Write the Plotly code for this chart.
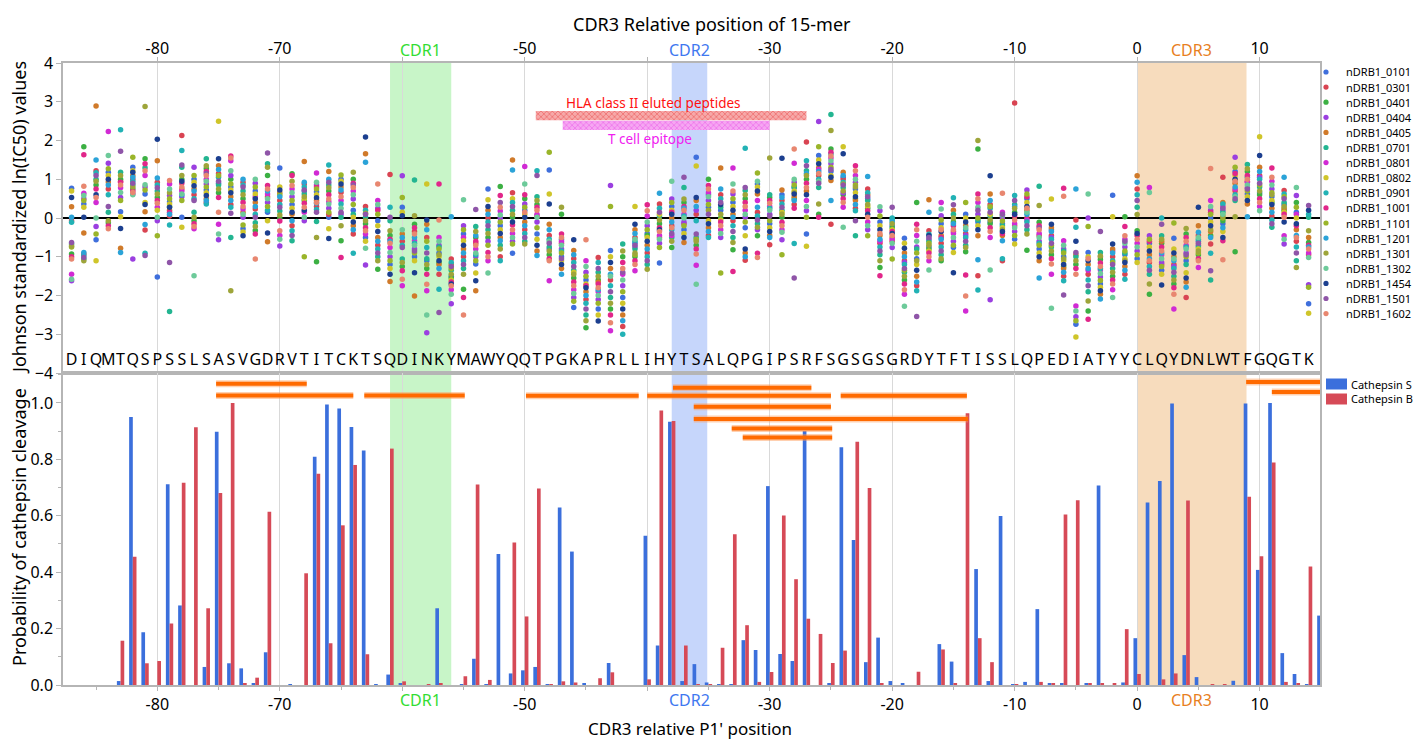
import sys
import plotly.graph_objects as go

# ---------------- data ----------------
positions = list(range(-87, 15))
residues = list("DIQMTQSPSSLSASVGDRVTITCKTSQDINKYMAWYQQTPGKAPRLLIHYTSALQPGIPSRFSGSGSGRDYTFTISSLQPEDIATYYCLQYDNLWTFGQGTK")

allele_names = ["nDRB1_0101", "nDRB1_0301", "nDRB1_0401", "nDRB1_0404", "nDRB1_0405", "nDRB1_0701",
                "nDRB1_0801", "nDRB1_0802", "nDRB1_0901", "nDRB1_1001", "nDRB1_1101", "nDRB1_1201",
                "nDRB1_1301", "nDRB1_1302", "nDRB1_1454", "nDRB1_1501", "nDRB1_1602"]
allele_colors = ["#3f6fdc", "#d94452", "#3cb043", "#9b3fe0", "#d07a2a", "#23b591", "#d12ad4", "#cfc52a",
                 "#22b2b5", "#e1268a", "#9ab52a", "#2ba3d8", "#9ea53a", "#6dca9a", "#1c3f8f", "#8f55a8", "#e88770"]

# Johnson standardized ln(IC50) values read per position (17 alleles each), positions -87 .. 14
scores_by_position = [
    [0.77,0.70,0.53,0.29,0.02,-0.07,-0.11,-0.63,-0.67,-0.72,-0.93,-1.0,-1.06,-1.45,-1.58,-1.62,-0.75],
    [1.84,1.63,0.82,0.64,0.58,0.5,0.45,0.36,0.28,0.02,-0.39,-0.89,-0.93,-0.97,-1.02,-1.06,-1.1],
    [2.89,1.5,1.22,1.17,1.1,1.0,0.95,0.85,0.75,0.53,0.4,0.0,-0.22,-0.41,-0.56,-1.1,0.6],
    [2.23,1.61,1.41,1.27,1.18,1.1,1.0,0.93,0.85,0.75,0.6,0.3,0.15,-0.07,-0.12,-0.2,-0.28],
    [2.28,1.72,1.18,1.1,1.0,0.92,0.85,0.78,0.66,0.53,0.45,0.16,0.03,-0.27,-0.78,-0.89,0.95],
    [1.57,1.31,1.22,1.18,1.1,1.05,1.0,0.95,0.9,0.85,0.8,0.75,0.7,0.66,0.62,0.6,-1.06],
    [2.88,1.53,1.4,1.22,1.1,0.86,0.8,0.72,0.62,0.4,0.35,0.16,-0.17,-0.31,-0.91,-0.97,1.3],
    [2.03,1.48,1.03,0.92,0.85,0.78,0.7,0.62,0.53,0.45,0.38,0.28,0.02,-0.07,-0.46,-1.52,0.2],
    [0.97,0.88,0.75,0.58,0.5,0.42,0.36,0.28,0.2,0.1,0.05,-0.18,-1.15,-2.41,0.65,0.3,0.15],
    [2.13,1.74,1.37,1.31,1.1,1.0,0.9,0.8,0.7,0.62,0.55,0.45,0.02,-0.24,0.95,0.75,0.6],
    [1.31,1.1,1.0,0.92,0.83,0.75,0.7,0.6,0.5,0.45,0.15,0.02,-0.07,-0.15,-0.22,-0.28,-1.49],
    [1.53,1.35,1.28,1.2,1.1,1.0,0.95,0.88,0.8,0.72,0.65,0.58,0.5,0.45,0.4,0.36,1.15],
    [2.5,1.53,1.35,1.25,1.15,1.05,0.95,0.85,0.75,0.65,0.53,0.15,-0.16,-0.41,-0.56,1.1,0.9],
    [1.6,1.55,1.48,1.22,1.1,0.88,0.8,0.72,0.65,0.55,0.45,0.35,0.28,0.12,-0.5,-1.88,1.0],
    [1.0,0.92,0.85,0.8,0.7,0.6,0.5,0.4,0.3,0.23,0.1,0.02,-0.18,-0.28,-0.36,-0.46,0.15],
    [1.0,0.9,0.8,0.7,0.62,0.5,0.4,0.3,0.23,0.1,0.02,-0.12,-0.22,-0.32,-0.41,-1.06,0.55],
    [1.68,1.4,1.31,1.1,0.84,0.75,0.62,0.5,0.4,0.3,0.15,-0.07,-0.39,-0.61,0.7,0.55,0.2],
    [1.29,0.8,0.72,0.65,0.55,0.45,0.35,0.28,0.18,0.08,0.0,-0.08,-0.33,-0.45,-0.55,-0.72,0.6],
    [1.14,1.1,0.84,0.75,0.65,0.55,0.45,0.35,0.25,0.15,0.1,-0.07,-0.2,-0.33,-0.45,-0.59,0.95],
    [1.46,0.92,0.88,0.8,0.72,0.62,0.55,0.45,0.38,0.28,0.15,0.02,-0.07,-1.0,0.7,0.5,0.2],
    [1.16,0.92,0.85,0.75,0.68,0.6,0.52,0.45,0.38,0.3,0.22,0.15,-0.09,-0.5,-1.13,0.8,0.4],
    [1.37,0.92,0.85,0.78,0.7,0.6,0.49,0.42,0.36,0.25,0.15,0.02,-0.28,-0.53,1.2,1.0,0.1],
    [1.11,1.0,0.95,0.88,0.8,0.72,0.66,0.36,0.15,0.02,-0.2,-0.59,-1.02,0.55,0.45,0.25,0.1],
    [1.18,1.0,0.9,0.79,0.7,0.6,0.49,0.35,0.2,0.02,-0.1,-0.2,-0.3,-0.41,-0.91,0.85,0.1],
    [2.09,1.66,1.44,0.3,0.2,0.1,0.02,-0.07,-0.15,-0.25,-0.33,-0.41,-0.78,-1.21,0.12,-0.5,-0.6],
    [0.88,0.45,0.35,0.25,0.1,-0.07,-0.2,-0.35,-0.5,-0.6,-0.7,-0.8,-0.9,-1.0,-1.1,-1.32,0.2],
    [1.12,0.28,0.02,-0.07,-0.33,-0.45,-0.55,-0.65,-0.76,-0.89,-1.0,-1.1,-1.2,-1.3,-1.45,-1.64,-0.6],
    [1.09,0.53,0.28,0.15,0.06,-0.41,-0.5,-0.6,-0.7,-0.76,-1.06,-1.15,-1.25,-1.36,-1.58,-1.75,-0.3],
    [0.98,0.06,-0.16,-0.25,-0.41,-0.59,-0.7,-0.8,-0.9,-1.0,-1.1,-1.41,-2.01,-0.5,-0.35,-0.65,-0.85],
    [0.88,-0.05,-0.16,-0.3,-0.5,-0.76,-0.9,-1.05,-1.2,-1.3,-1.45,-1.71,-1.88,-2.5,-2.96,-0.6,-1.1],
    [0.88,-0.05,-0.5,-0.6,-0.7,-0.8,-0.9,-1.0,-1.1,-1.2,-1.3,-1.45,-1.84,-2.44,-0.75,-0.95,-1.15],
    [0.03,-1.06,-1.15,-1.25,-1.35,-1.45,-1.55,-1.65,-1.75,-1.85,-1.97,-2.21,-1.3,-1.5,-1.6,-1.7,-1.2],
    [0.47,-0.2,-0.3,-0.41,-0.59,-0.7,-0.8,-0.9,-1.0,-1.1,-1.2,-1.3,-1.45,-1.84,-2.05,-2.5,-0.5],
    [0.22,-0.22,-0.35,-0.5,-0.6,-0.7,-0.8,-0.9,-1.0,-1.1,-1.19,-1.42,-1.62,-1.88,-0.45,-0.65,-0.95],
    [0.75,0.47,0.3,0.2,0.1,0.0,-0.1,-0.2,-0.3,-0.4,-0.5,-0.89,-1.0,-1.1,-1.42,-0.6,-0.7],
    [0.81,0.58,0.28,0.18,0.08,0.0,-0.1,-0.2,-0.3,-0.4,-0.5,-0.59,-1.0,-1.1,0.4,-0.7,-0.8],
    [1.5,1.24,0.65,0.4,0.3,0.2,0.1,0.02,-0.18,-0.3,-0.4,-0.5,-0.6,-0.67,-0.91,0.5,-0.1],
    [1.33,0.88,0.36,0.28,0.2,0.1,0.02,-0.1,-0.2,-0.3,-0.4,-0.5,-0.6,-0.67,0.5,0.6,0.15],
    [1.22,1.1,0.55,0.45,0.35,0.28,0.2,0.1,0.02,-0.1,-0.25,-0.41,-0.55,-0.7,-0.85,-0.97,0.05],
    [1.7,1.24,0.62,0.36,-0.16,-0.3,-0.45,-0.55,-0.65,-0.75,-0.85,-0.95,-1.05,-1.1,-1.62,-0.6,-0.8],
    [0.28,0.1,-0.41,-0.5,-0.6,-0.7,-0.8,-0.9,-1.0,-1.1,-1.2,-1.3,-1.45,-0.65,-0.85,-1.05,-0.55],
    [-0.56,-0.84,-0.95,-1.05,-1.15,-1.25,-1.35,-1.45,-1.55,-1.65,-1.75,-1.85,-1.95,-2.05,-2.15,-2.31,-1.4],
    [-0.56,-1.1,-1.25,-1.4,-1.5,-1.6,-1.7,-1.8,-1.9,-2.0,-2.1,-2.2,-2.35,-2.5,-2.65,-2.83,-1.75],
    [-1.02,-1.15,-1.3,-1.4,-1.5,-1.6,-1.7,-1.8,-1.9,-2.0,-2.1,-2.2,-2.35,-2.5,-2.66,-1.65,-1.85],
    [0.84,0.3,-0.84,-1.0,-1.15,-1.3,-1.45,-1.6,-1.75,-1.9,-2.05,-2.2,-2.35,-2.5,-2.7,-2.91,-1.5],
    [-0.67,-0.85,-1.0,-1.15,-1.3,-1.45,-1.6,-1.75,-1.9,-2.05,-2.2,-2.35,-2.5,-2.65,-2.8,-3.0,-1.4],
    [0.3,-0.16,-0.3,-0.4,-0.5,-0.6,-0.7,-0.8,-0.9,-1.0,-1.1,-1.2,-1.36,-0.55,-0.75,-0.95,-0.65],
    [0.34,0.19,0.05,-0.1,-0.2,-0.3,-0.4,-0.5,-0.6,-0.7,-0.8,-0.9,-1.0,-1.1,-1.2,-1.32,-0.45],
    [0.64,0.36,0.25,0.15,0.05,-0.05,-0.15,-0.25,-0.35,-0.45,-0.55,-0.65,-0.76,-1.16,0.1,-0.3,-0.5],
    [0.95,0.49,0.4,0.3,0.2,0.1,0.0,-0.1,-0.2,-0.3,-0.4,-0.5,-0.6,-0.76,0.15,-0.25,-0.45],
    [1.05,0.79,0.49,0.4,0.3,0.2,0.1,0.0,-0.1,-0.2,-0.3,-0.4,-0.5,-0.63,0.25,-0.15,0.05],
    [1.57,1.34,0.53,0.45,0.3,0.1,-0.07,-0.41,-0.5,-0.6,-0.7,-0.8,-0.93,-1.22,-1.71,0.2,-0.55],
    [1.0,0.84,0.75,0.65,0.55,0.45,0.35,0.28,-0.07,-0.15,-0.25,-0.35,-0.45,-0.5,0.1,0.6,0.2],
    [1.29,0.75,0.6,0.5,0.4,0.28,0.1,0.0,-0.1,-0.2,-0.3,-0.4,-0.5,-1.42,0.2,-0.05,0.35],
    [1.29,0.88,0.62,0.5,0.4,0.3,0.2,0.1,0.02,-0.07,-0.2,-0.35,-0.5,-0.63,-0.82,-1.38,0.7],
    [1.8,0.79,0.71,0.6,0.5,0.4,0.3,0.2,0.1,0.02,-0.1,-0.25,-0.46,-0.8,-0.9,-1.0,-1.09],
    [1.16,0.88,0.8,0.7,0.62,0.28,0.15,0.05,-0.05,-0.15,-0.24,-0.46,-0.91,-1.02,0.45,0.95,-0.3],
    [1.55,0.53,0.45,0.38,0.3,0.2,0.1,-0.07,-0.15,-0.25,-0.35,-0.45,-0.5,-0.69,0.25,0.05,0.6],
    [1.54,0.72,0.53,0.45,0.36,0.28,0.2,0.1,0.02,-0.11,-0.2,-0.3,-0.37,-0.56,-0.95,0.6,0.15],
    [1.78,1.41,1.0,0.92,0.85,0.78,0.7,0.62,0.55,0.45,0.35,-0.66,-1.55,0.8,0.65,0.5,0.25],
    [1.96,1.48,1.35,1.22,1.1,1.0,0.9,0.79,0.45,0.3,0.19,0.02,-0.41,-0.73,0.6,0.7,1.15],
    [2.49,1.84,1.61,1.5,1.4,1.3,1.2,1.1,1.0,0.9,0.79,0.36,0.1,0.02,1.15,1.25,0.95],
    [2.67,2.26,1.78,1.7,1.6,1.55,1.48,1.4,1.31,1.2,1.1,1.05,0.97,0.45,-0.16,1.65,1.25],
    [1.84,1.66,1.18,1.1,1.0,0.92,0.85,0.78,0.7,0.6,0.5,0.4,0.28,-0.24,0.65,0.88,1.05],
    [1.35,1.22,1.1,1.0,0.92,0.85,0.75,0.65,0.55,0.45,0.35,0.25,0.19,-0.07,-0.46,0.8,0.5],
    [1.07,0.75,0.65,0.55,0.45,0.35,0.25,0.19,0.02,-0.1,-0.2,-0.3,-0.46,0.5,0.3,0.1,0.6],
    [0.29,0.19,0.05,-0.1,-0.2,-0.3,-0.45,-0.55,-0.65,-0.75,-0.85,-0.95,-1.1,-1.28,-1.49,-0.4,-0.6],
    [0.28,-0.05,-0.15,-0.25,-0.35,-0.45,-0.55,-0.65,-0.76,-1.06,-0.2,-0.3,-0.4,-0.5,-0.1,-0.6,0.0],
    [-0.52,-0.65,-0.78,-0.9,-1.0,-1.1,-1.2,-1.3,-1.4,-1.5,-1.6,-1.7,-1.85,-1.97,-2.28,-1.15,-1.35],
    [0.4,-0.16,-0.3,-0.45,-0.6,-0.75,-0.9,-1.05,-1.2,-1.35,-1.5,-1.65,-1.75,-1.88,-2.54,-0.8,-1.1],
    [0.47,0.15,-0.33,-0.42,-0.5,-0.6,-0.7,-0.8,-0.9,-1.0,-1.1,-1.34,-0.55,-0.65,-0.75,-0.85,-0.45],
    [0.4,0.23,0.06,-0.05,-0.15,-0.25,-0.35,-0.45,-0.55,-0.65,-0.75,-0.85,-0.95,-1.05,-1.1,-0.5,-0.3],
    [0.52,0.34,0.1,0.0,-0.1,-0.2,-0.3,-0.4,-0.5,-0.6,-0.7,-0.76,-0.89,-1.41,0.2,-0.15,-0.35],
    [0.4,0.1,0.0,-0.1,-0.2,-0.3,-0.4,-0.5,-0.6,-0.7,-0.76,-0.87,-1.47,-2.01,-2.4,-0.25,-0.45],
    [2.0,1.78,0.62,0.5,0.4,0.28,0.1,0.0,-0.1,-0.2,-0.3,-0.46,-1.08,-1.49,-1.86,0.2,-0.05],
    [1.09,0.62,0.45,0.35,0.25,0.15,0.05,-0.05,-0.15,-0.25,-0.35,-0.5,-1.34,-2.11,0.3,-0.1,0.1],
    [0.64,0.15,0.08,0.0,-0.08,-0.15,-0.25,-0.35,-0.45,-0.59,-1.1,-1.05,0.1,-0.2,-0.3,0.05,-0.4],
    [2.97,0.58,0.45,0.35,0.25,0.15,0.05,-0.05,-0.15,-0.25,-0.35,-0.45,-0.55,-0.67,0.1,-0.2,0.3],
    [0.72,0.62,0.5,0.4,0.3,0.2,0.1,0.0,-0.1,-0.2,-0.3,-0.41,-0.83,0.55,0.25,-0.05,0.15],
    [0.82,0.32,-0.11,-0.2,-0.3,-0.4,-0.5,-0.6,-0.7,-0.8,-0.9,-1.0,-1.1,-1.55,-0.45,-0.65,-0.25],
    [0.49,-0.16,-0.25,-0.35,-0.45,-0.55,-0.65,-0.75,-0.85,-0.95,-1.05,-1.19,-1.45,-2.33,-0.5,-0.7,-0.3],
    [0.77,0.56,-0.59,-0.7,-0.8,-0.9,-1.0,-1.1,-1.2,-1.3,-1.4,-1.5,-1.62,-1.99,-0.85,-1.05,-1.25],
    [0.75,-0.05,-0.24,-0.89,-1.0,-1.1,-1.2,-1.3,-1.45,-2.27,-2.4,-2.55,-2.65,-2.74,-3.07,-0.6,-0.95],
    [0.62,0.0,-0.22,-0.89,-1.0,-1.1,-1.2,-1.3,-1.45,-1.6,-1.75,-1.9,-2.14,-2.4,-2.61,-1.05,-1.35],
    [-0.35,-0.89,-0.98,-1.07,-1.16,-1.25,-1.34,-1.43,-1.52,-1.61,-1.7,-1.79,-1.88,-1.97,-2.09,-1.0,-1.3],
    [0.59,0.03,-0.67,-0.8,-0.9,-1.0,-1.1,-1.2,-1.3,-1.4,-1.5,-1.6,-1.7,-1.85,-2.05,-0.85,-1.15],
    [0.03,-0.22,-0.46,-0.55,-0.65,-0.75,-0.85,-0.95,-1.05,-1.15,-1.25,-1.35,-1.45,-1.58,-0.6,-0.9,-1.1],
    [1.09,0.92,0.75,0.6,0.45,0.28,0.09,-0.33,-0.45,-0.55,-0.65,-0.75,-0.85,-0.95,-1.05,-1.15,-0.4],
    [0.79,0.66,-0.46,-0.55,-0.65,-0.75,-0.85,-0.95,-1.05,-1.15,-1.25,-1.35,-1.45,-1.7,-1.97,-0.6,-1.1],
    [0.0,-0.16,-0.46,-0.55,-0.65,-0.75,-0.85,-0.95,-1.05,-1.15,-1.25,-1.35,-1.45,-1.73,-0.6,-0.9,-1.2],
    [-0.13,-0.52,-0.8,-0.9,-1.0,-1.1,-1.2,-1.3,-1.4,-1.5,-1.6,-1.7,-1.8,-1.97,-2.35,-1.05,-1.25],
    [-0.27,-0.41,-0.5,-0.6,-0.7,-0.8,-0.9,-1.0,-1.1,-1.41,-1.55,-1.65,-1.79,-2.05,-0.75,-0.95,-1.2],
    [0.28,-0.2,-0.37,-0.45,-0.55,-0.65,-0.75,-0.85,-0.95,-1.05,-1.1,-1.28,-0.5,-0.7,-0.9,-0.6,-0.8],
    [1.28,0.45,0.3,0.2,0.1,0.0,-0.1,-0.2,-0.35,-0.5,-0.67,-0.91,-1.36,-1.6,-0.3,-0.45,0.15],
    [1.05,0.36,0.25,0.15,0.05,-0.07,-0.59,-1.08,0.3,0.1,0.2,0.0,-0.15,-0.35,-0.5,0.4,-0.25],
    [1.57,1.31,1.2,1.1,1.0,0.9,0.8,0.7,0.6,0.5,0.45,0.03,-0.87,1.15,0.95,0.75,0.55],
    [1.38,1.27,1.2,1.1,1.0,0.92,0.85,0.78,0.7,0.62,0.55,0.45,0.36,0.03,0.95,1.05,0.75],
    [2.1,1.61,1.31,1.2,1.1,1.0,0.9,0.8,0.7,0.6,0.5,0.4,0.3,0.19,1.05,0.85,0.65],
    [1.29,1.05,0.95,0.85,0.75,0.65,0.55,0.45,0.35,0.25,0.15,0.05,-0.05,-0.15,-0.24,0.6,0.4],
    [1.05,0.71,0.62,0.5,0.4,0.3,0.2,0.1,0.02,-0.46,-0.55,-0.67,0.55,0.35,0.15,-0.1,0.25],
    [0.79,0.58,0.28,0.15,0.0,-0.15,-0.3,-0.45,-0.6,-0.75,-0.9,-1.1,-1.28,0.4,-0.2,-0.5,0.1],
    [0.32,0.02,-0.33,-0.63,-0.7,-0.8,-0.9,-1.02,-1.72,-1.79,-2.21,-2.46,0.2,-0.5,-0.75,-0.95,0.1],
]

# cathepsin cleavage probabilities, positions -87 .. 15
bar_positions = list(range(-87, 16))
cathepsin_s = [0, 0, 0, 0, 0.014, 0.950, 0.187, 0, 0.712, 0.282, 0, 0.064, 0.898, 0.077, 0.059, 0.007, 0.116,
               0, 0.002, 0, 0.809, 0.994, 0.980, 0.915, 0.831, 0.003, 0.037, 0.006, 0, 0, 0.272, 0, 0.002,
               0.093, 0.002, 0.464, 0.041, 0.052, 0.064, 0.002, 0.629, 0.473, 0.007, 0, 0.078, 0, 0, 0.529,
               0.140, 0.933, 0.014, 0.074, 0.009, 0.002, 0.003, 0.159, 0.124, 0.705, 0.110, 0.085, 0.900, 0,
               0.004, 0.843, 0.514, 0.081, 0.168, 0.014, 0.004, 0, 0, 0.145, 0.083, 0, 0.411, 0.014, 0.599,
               0.003, 0.011, 0.269, 0.004, 0.004, 0, 0.004, 0.707, 0, 0.009, 0.166, 0.647, 0.723, 0.998,
               0.106, 0.028, 0, 0, 0.015, 0.998, 0.408, 1.0, 0.113, 0.039, 0.002, 0.246]
cathepsin_b = [0, 0, 0, 0, 0.157, 0.455, 0.077, 0.085, 0.218, 0.717, 0.914, 0.272, 0.681, 1.0, 0.004, 0.026,
               0.614, 0, 0, 0.396, 0.749, 0.148, 0.566, 0.780, 0.109, 0, 0.838, 0.013, 0, 0.002, 0.006, 0,
               0.031, 0.711, 0.018, 0, 0.505, 0.243, 0.697, 0.002, 0.013, 0.009, 0, 0.024, 0.045, 0, 0,
               0.020, 0.973, 0.936, 0.140, 0.003, 0.003, 0.132, 0.534, 0.212, 0.011, 0.046, 0.601, 0.375,
               0.235, 0.181, 0.078, 0.122, 0.862, 0.698, 0.006, 0, 0, 0.047, 0, 0.126, 0.004, 0.963, 0.166,
               0.081, 0, 0.003, 0, 0.011, 0.005, 0.604, 0.655, 0.004, 0.004, 0.006, 0.198, 0.039, 0, 0.020,
               0.041, 0.654, 0, 0.003, 0.003, 0, 0.667, 0.456, 0.789, 0.011, 0.006, 0.420, 0]

# epitope / peptide segments drawn in the cathepsin panel
epitope_start = [-75.2, -75.2, -63.1, -49.9, -40.0, -37.9, -36.2, -36.2, -33.1, -32.2, -24.2, 8.9, 11.0]
epitope_end = [-67.8, -64.0, -54.9, -40.7, -25.0, -26.6, -25.0, -13.8, -24.9, -24.9, -13.9, 15.5, 15.5]
epitope_level = [1.068, 1.026, 1.026, 1.025, 1.025, 1.054, 0.986, 0.943, 0.909, 0.877, 1.025, 1.074, 1.039]

# HLA class II eluted peptides / T cell epitope spans (top panel)
span_labels = ["HLA class II eluted peptides", "T cell epitope"]
span_start = [-49.1, -46.9]
span_end = [-27.0, -30.0]
span_level = [2.64, 2.39]

# CDR regions
cdr_names = ["CDR1", "CDR2", "CDR3"]
cdr_start = [-61.0, -38.0, 0.0]
cdr_end = [-56.0, -35.1, 8.93]

major_ticks = [-80, -70, -60, -50, -40, -30, -20, -10, 0, 10]
major_labels = ["-80", "-70", "", "-50", "", "-30", "-20", "-10", "0", "10"]

# ---------------- figure ----------------
W, H = 1416, 742
L, R, T, B = 63, 96, 63, 57
PW, PH = W - L - R, H - T - B
SPLIT = 373  # pixel row of the panel boundary


def px_x(px):
    return (px - L) / PW


def px_y(py):
    return (H - B - py) / PH


split_y = px_y(SPLIT)
FONT = "Segoe UI, Noto Sans, sans-serif"
GRID = "#d9d9d9"
AXL = "#b5b5b5"

cdr_fill = ["#c8f5c8", "#c6d6fb", "#f7dcbd"]
cdr_text = ["#33dd33", "#3f78f0", "#e8801e"]

fig = go.Figure()

# allele scatter points
n_pos = len(positions)
for j, name in enumerate(allele_names):
    ys = []
    for i, row in enumerate(scores_by_position):
        k = (j * 5 + i * 7) % 17
        ys.append(row[k] if k < len(row) else None)
    fig.add_trace(go.Scatter(x=positions, y=ys, mode="markers", name=name,
                             marker=dict(color=allele_colors[j], size=5.5),
                             xaxis="x", yaxis="y", showlegend=False))

for i, row in enumerate(scores_by_position):
    if len(row) != 17:
        print("row", positions[i], "has", len(row), "values", file=sys.stderr)

# residue letters
fig.add_trace(go.Scatter(x=positions, y=[-3.7] * n_pos, mode="text", text=residues,
                         textfont=dict(size=16, color="black", family=FONT),
                         xaxis="x", yaxis="y", showlegend=False, hoverinfo="skip"))

# hatched spans
span_fg = ["#e83333", "#e43ee4"]
span_bg = ["#f6a9a9", "#f6a6f2"]
for k in range(len(span_labels)):
    fig.add_trace(go.Bar(y=[span_level[k]], x=[span_end[k] - span_start[k]], base=[span_start[k]],
                         orientation="h", width=0.24, offset=-0.12,
                         marker=dict(color=span_bg[k], line=dict(width=0),
                                     pattern=dict(shape="x", fgcolor=span_fg[k], bgcolor=span_bg[k],
                                                  size=4, solidity=0.35)),
                         xaxis="x", yaxis="y", showlegend=False, name=span_labels[k]))

# cathepsin bars
fig.add_trace(go.Bar(x=bar_positions, y=cathepsin_s, name="Cathepsin S", marker=dict(color="#3b6fdc", line=dict(width=0)),
                     xaxis="x2", yaxis="y2", showlegend=False))
fig.add_trace(go.Bar(x=bar_positions, y=cathepsin_b, name="Cathepsin B", marker=dict(color="#d64a57", line=dict(width=0)),
                     xaxis="x2", yaxis="y2", showlegend=False))

# epitope segments
ex, ey = [], []
for s, e, lv in zip(epitope_start, epitope_end, epitope_level):
    ex += [s, e, None]
    ey += [lv, lv, None]
fig.add_trace(go.Scatter(x=ex, y=ey, mode="lines", line=dict(color="rgba(255,150,80,0.45)", width=7),
                         xaxis="x2", yaxis="y2", showlegend=False, hoverinfo="skip"))
fig.add_trace(go.Scatter(x=ex, y=ey, mode="lines", line=dict(color="#ff6a00", width=4),
                         xaxis="x2", yaxis="y2", showlegend=False, hoverinfo="skip"))

shapes = []
annotations = []
for k in range(3):
    for xr, yr in (("x", "y domain"), ("x2", "y2 domain")):
        shapes.append(dict(type="rect", xref=xr, yref=yr, x0=cdr_start[k], x1=cdr_end[k], y0=0, y1=1,
                           fillcolor=cdr_fill[k], line=dict(width=0), layer="below"))
    mid = (cdr_start[k] + cdr_end[k]) / 2
    annotations.append(dict(x=mid, y=px_y(50), xref="x", yref="paper", text=cdr_names[k], showarrow=False,
                            font=dict(size=16, color=cdr_text[k]), xanchor="center", yanchor="middle"))
    annotations.append(dict(x=mid, y=px_y(700), xref="x", yref="paper", text=cdr_names[k], showarrow=False,
                            font=dict(size=16, color=cdr_text[k]), xanchor="center", yanchor="middle"))

# span labels
annotations.append(dict(x=-39.5, y=2.97, xref="x", yref="y", text=span_labels[0], showarrow=False,
                        font=dict(size=13.5, color="#ff1010"), xanchor="center", yanchor="middle"))
annotations.append(dict(x=-39.8, y=2.04, xref="x", yref="y", text=span_labels[1], showarrow=False,
                        font=dict(size=13.5, color="#f020f0"), xanchor="center", yanchor="middle"))

# titles
annotations.append(dict(x=px_x(712), y=px_y(24), xref="paper", yref="paper", text="CDR3 Relative position of 15-mer",
                        showarrow=False, font=dict(size=18), xanchor="center", yanchor="middle"))
annotations.append(dict(x=px_x(690), y=px_y(728), xref="paper", yref="paper", text="CDR3 relative P1' position",
                        showarrow=False, font=dict(size=17), xanchor="center", yanchor="middle"))
annotations.append(dict(x=px_x(19), y=px_y(218), xref="paper", yref="paper", text="Johnson standardized ln(IC50) values",
                        showarrow=False, font=dict(size=18), textangle=-90, xanchor="center", yanchor="middle"))
annotations.append(dict(x=px_x(19), y=px_y(527), xref="paper", yref="paper", text="Probability of cathepsin cleavage",
                        showarrow=False, font=dict(size=18), textangle=-90, xanchor="center", yanchor="middle"))

# legend for alleles (compact rows)
for i, (name, col) in enumerate(zip(allele_names, allele_colors)):
    py = 72 + 15.1 * i
    shapes.append(dict(type="circle", xref="paper", yref="paper", xsizemode="pixel", ysizemode="pixel",
                       xanchor=px_x(1326), yanchor=px_y(py), x0=-2.6, x1=2.6, y0=-2.6, y1=2.6,
                       fillcolor=col, line=dict(width=0)))
    annotations.append(dict(x=px_x(1344), y=px_y(py), xref="paper", yref="paper", text=name, showarrow=False,
                            font=dict(size=11), xanchor="left", yanchor="middle"))
# legend for cathepsins
for i, (name, col) in enumerate(zip(["Cathepsin S", "Cathepsin B"], ["#3b6fdc", "#d64a57"])):
    py = 384 + 15 * i
    shapes.append(dict(type="rect", xref="paper", yref="paper", xsizemode="pixel", ysizemode="pixel",
                       xanchor=px_x(1326), yanchor=px_y(py), x0=0, x1=21, y0=-5.5, y1=5.5,
                       fillcolor=col, line=dict(width=0)))
    annotations.append(dict(x=px_x(1349), y=px_y(py), xref="paper", yref="paper", text=name, showarrow=False,
                            font=dict(size=11), xanchor="left", yanchor="middle"))

xrange = [-87.7, 14.93]
common_x = dict(range=xrange, tickmode="array", tickvals=major_ticks, ticktext=major_labels,
                showgrid=True, gridcolor=GRID, gridwidth=1, showline=True, linecolor=AXL, linewidth=1.5,
                mirror=True, ticks="outside", ticklen=4, tickcolor=AXL, zeroline=False,
                tickfont=dict(size=16))

fig.update_layout(
    width=W, height=H, margin=dict(l=L, r=R, t=T, b=B),
    paper_bgcolor="white", plot_bgcolor="white",
    font=dict(family=FONT, size=16, color="black"),
    barmode="group", bargap=0.4, showlegend=False,
    xaxis=dict(domain=[0, 1], anchor="y", side="top", ticklabelstandoff=-3, **common_x),
    xaxis2=dict(domain=[0, 1], anchor="y2", side="bottom", matches="x",
                minor=dict(tick0=0, dtick=5, ticks="outside", ticklen=3, tickcolor=AXL, showgrid=False),
                **common_x),
    yaxis=dict(domain=[split_y, 1], anchor="x", range=[-4, 4], dtick=1, tick0=0, showgrid=False,
               zeroline=True, zerolinecolor="black", zerolinewidth=2, showline=True, linecolor=AXL,
               linewidth=1.5, mirror=True, ticks="outside", ticklen=5, tickcolor=AXL, tickfont=dict(size=16)),
    yaxis2=dict(domain=[0, split_y], anchor="x2", range=[0, 1.106], dtick=0.2, tick0=0, tickformat=".1f",
                showgrid=False, zeroline=False, showline=True, linecolor=AXL, linewidth=1.5, mirror=True,
                ticks="outside", ticklen=5, tickcolor=AXL, tickfont=dict(size=16),
                minor=dict(dtick=0.1, tick0=0, ticks="outside", ticklen=3, tickcolor=AXL)),
    shapes=shapes, annotations=annotations,
)

fig.write_html("out.html")
